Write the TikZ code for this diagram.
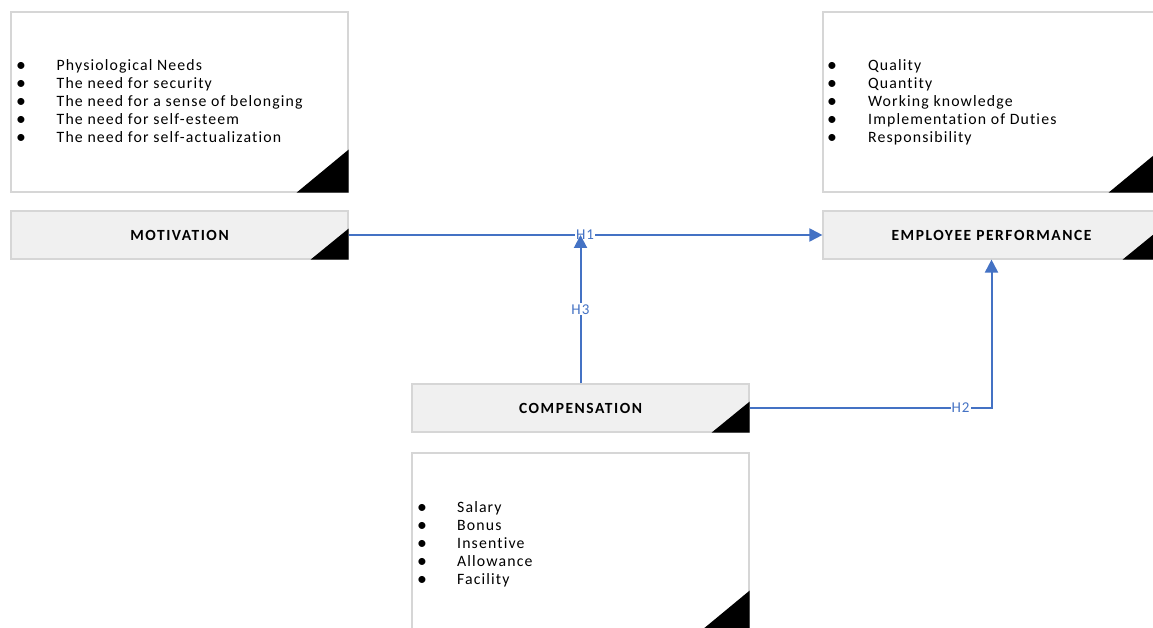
\documentclass[tikz,border=0pt]{standalone}
\usepackage{fontspec}
\setmainfont{Carlito}[LetterSpace=7.2, RawFeature=-liga]
\newfontfamily\titlefont{Carlito}[LetterSpace=10, RawFeature=-liga]
\usetikzlibrary{arrows.meta}
\definecolor{boxgray}{HTML}{D6D6D6}
\definecolor{titlefill}{HTML}{F0F0F0}
\definecolor{linkblue}{HTML}{4472C4}
\newcommand{\blt}{\raisebox{-0.8pt}{\scalebox{1.25}{\textbullet}}}
\tikzset{
  listbox/.style={draw=boxgray, line width=1.2pt, fill=white, minimum width=337pt, minimum height=180pt, inner sep=0pt},
  titlebox/.style={draw=boxgray, line width=1.2pt, fill=titlefill, minimum width=337pt, minimum height=48pt, inner sep=0pt, font=\titlefont\fontsize{15.5}{18}\selectfont\bfseries},
  items/.style={anchor=north west, inner sep=0pt, font=\fontsize{15.8}{18}\selectfont, align=left},
  arr/.style={draw=linkblue, line width=2pt, -{Triangle[width=13pt,length=13pt]}},
  hlabel/.style={fill=white, inner sep=1pt, text=linkblue, font=\fontsize{15}{16}\selectfont}
}
\begin{document}
\begin{tikzpicture}[x=1pt,y=1pt]
\useasboundingbox (0,0) rectangle (1153,628);
\clip (0,0) rectangle (1153,628);
% boxes
\node[listbox] (motlist) at (179.5,526) {};
\node[titlebox] (mot) at (179.5,393) {MOTIVATION};
\node[listbox] (eplist) at (991.5,526) {};
\node[titlebox] (ep) at (991.5,393) {EMPLOYEE PERFORMANCE};
\node[titlebox] (comp) at (580.5,220) {COMPENSATION};
\node[listbox] (complist) at (580.5,85) {};
% corner triangles
\foreach \b in {motlist,eplist,complist}{
  \fill (\b.south east) -- ++(-52,0) -- ++(52,43) -- cycle;
}
\foreach \b in {mot,ep,comp}{
  \fill (\b.south east) -- ++(-38,0) -- ++(38,31) -- cycle;
}
% lists
\node[items] (motitems) at (16,569.8) {\begin{tabular}{@{}p{40.5pt}@{}l@{}}
\blt & Physiological Needs\\
\blt & The need for security\\
\blt & The need for a sense of belonging\\
\blt & The need for self-esteem\\
\blt & The need for self-actualization
\end{tabular}};
\node[items] (epitems) at (827,569.8) {\begin{tabular}{@{}p{41pt}@{}l@{}}
\blt & Quality\\
\blt & Quantity\\
\blt & Working knowledge\\
\blt & Implementation of Duties\\
\blt & Responsibility
\end{tabular}};
\node[items] (compitems) at (417,127.8) {\begin{tabular}{@{}p{40pt}@{}l@{}}
\blt & Salary\\
\blt & Bonus\\
\blt & Insentive\\
\blt & Allowance\\
\blt & Facility
\end{tabular}};
% connectors
\coordinate (meet) at (comp.north |- mot.east);
\draw[arr] (mot.east) -- node[hlabel, pos=0.499] (h1) {H1} (ep.west);
\draw[arr] (comp.north) -- node[hlabel, pos=0.5] (h3) {H3} (meet);
\draw[arr] (comp.east) -| node[hlabel, pos=0.436] (h2) {H2} (ep.south);
\end{tikzpicture}
\end{document}
